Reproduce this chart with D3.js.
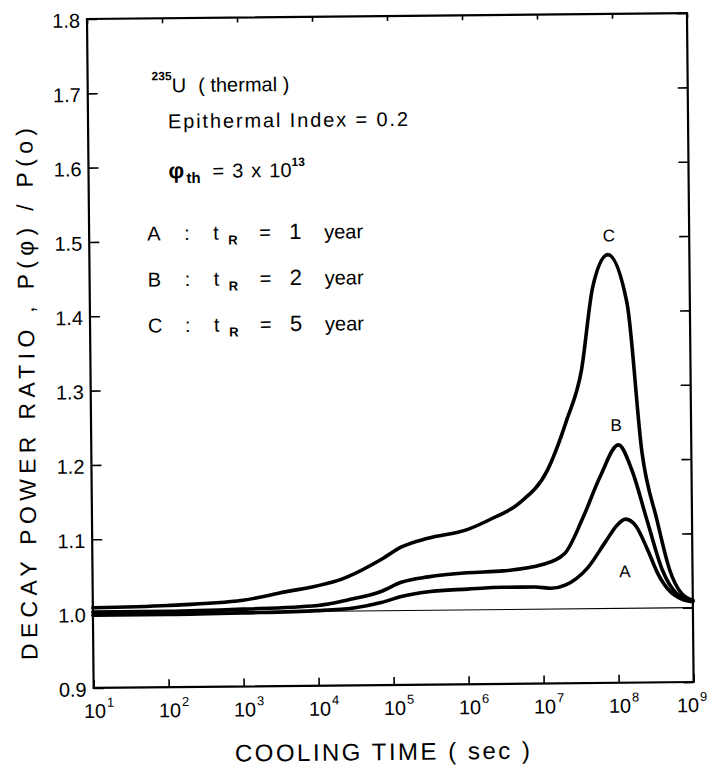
<!DOCTYPE html>
<html>
<head>
<meta charset="utf-8">
<script src="https://cdn.jsdelivr.net/npm/d3@7/dist/d3.min.js"></script>
<style>
  html, body { margin: 0; padding: 0; background: #fff; }
  svg { display: block; }
  text { font-family: "Liberation Sans", "DejaVu Sans", sans-serif; fill: #000; }
</style>
</head>
<body>
<svg id="chart" width="708" height="767"></svg>
<script>
// ---------------- data ----------------
const xTickValues = [1e1, 1e2, 1e3, 1e4, 1e5, 1e6, 1e7, 1e8, 1e9];
const xTickExponents = ["1", "2", "3", "4", "5", "6", "7", "8", "9"];
const yTickValues = [0.9, 1.0, 1.1, 1.2, 1.3, 1.4, 1.5, 1.6, 1.7, 1.8];

// curve A : t_R = 1 year  [cooling time (s), ratio]
const seriesA = [
  [1e1, 0.998], [1e2, 0.998], [1e3, 0.999], [1e4, 1.001], [3e4, 1.004],
  [7e4, 1.011], [1.3e5, 1.019], [3e5, 1.025], [1e6, 1.028], [3e6, 1.030],
  [8e6, 1.030], [1.3e7, 1.028], [2e7, 1.032], [4e7, 1.055], [7e7, 1.090],
  [1e8, 1.112], [1.3e8, 1.120], [1.8e8, 1.110], [2.5e8, 1.080], [3.5e8, 1.045],
  [5e8, 1.022], [7e8, 1.012], [1e9, 1.008]
];
// curve B : t_R = 2 year
const seriesB = [
  [1e1, 1.002], [1e2, 1.002], [1e3, 1.004], [1e4, 1.008], [2.5e4, 1.015],
  [7e4, 1.026], [1.3e5, 1.038], [3e5, 1.045], [1e6, 1.050], [3e6, 1.052],
  [1e7, 1.060], [2e7, 1.075], [3.5e7, 1.122], [6e7, 1.177], [1.07e8, 1.220],
  [1.6e8, 1.186], [2.5e8, 1.119], [4e8, 1.050], [6e8, 1.020], [1e9, 1.009]
];
// curve C : t_R = 5 year
const seriesC = [
  [1e1, 1.008], [1e2, 1.010], [1e3, 1.016], [3e3, 1.025], [2.5e4, 1.046],
  [6.8e4, 1.068], [1.35e5, 1.086], [3e5, 1.097], [1e6, 1.108], [2e6, 1.121],
  [5e6, 1.143], [1.2e7, 1.187], [2.2e7, 1.254], [3.5e7, 1.320], [5.1e7, 1.433],
  [8.2e7, 1.476], [1.45e8, 1.411], [2.2e8, 1.209], [3.4e8, 1.119], [5e8, 1.050],
  [7e8, 1.020], [1e9, 1.010]
];
const curveLabels = ["A", "B", "C"];
const curveLabelPos = [[1.25e8, 1.050], [1.0e8, 1.247], [8.5e7, 1.502]];
const legendValues = ["1", "2", "5"];

// ---------------- layout ----------------
const plotW = 600, plotH = 669;
const svg = d3.select("#chart");
const g = svg.append("g").attr("transform", "translate(87,19) rotate(-0.57)");

const x = d3.scaleLog().domain([1e1, 1e9]).range([0, plotW]);
const y = d3.scaleLinear().domain([0.9, 1.8]).range([plotH, 0]);

// reference line at 1.0
g.append("line")
  .attr("x1", 0).attr("x2", plotW)
  .attr("y1", y(1.0)).attr("y2", y(1.0))
  .attr("stroke", "#000").attr("stroke-width", 1.1);

// axes (ticks on all four sides, inward)
const styleAxis = sel => {
  sel.select(".domain").remove();
  sel.selectAll(".tick line").attr("stroke", "#000").attr("stroke-width", 1.6);
};
g.append("g").attr("transform", `translate(0,${plotH})`)
  .call(d3.axisBottom(x).tickValues(xTickValues).tickSize(-8).tickFormat(""))
  .call(styleAxis);
g.append("g")
  .call(d3.axisTop(x).tickValues(xTickValues).tickSize(-5).tickFormat(""))
  .call(styleAxis);
const yAxisG = g.append("g")
  .call(d3.axisLeft(y).tickValues(yTickValues).tickSize(-10).tickPadding(7).tickFormat(d3.format(".1f")))
  .call(styleAxis);
yAxisG.selectAll(".tick text")
  .attr("font-size", 20).attr("font-family", "Liberation Sans, sans-serif").attr("fill", "#000").attr("dy", "0.4em");
g.append("g").attr("transform", `translate(${plotW},0)`)
  .call(d3.axisRight(y).tickValues(yTickValues).tickSize(-10).tickFormat(""))
  .call(styleAxis);

// frame
g.append("rect").attr("x", 0).attr("y", 0).attr("width", plotW).attr("height", plotH)
  .attr("fill", "none").attr("stroke", "#000").attr("stroke-width", 2.2);

// x tick labels 10^n
const xl = g.append("g");
xTickValues.forEach((v, i) => {
  const shift = (i === xTickValues.length - 1) ? -17 : -10;
  const t = xl.append("text").attr("x", x(v) + shift).attr("y", plotH + 30).attr("font-size", 20);
  t.append("tspan").text("10");
  t.append("tspan").attr("dy", -11).attr("dx", 1).attr("font-size", 13).text(xTickExponents[i]);
});

// curves
const line = d3.line().x(d => x(d[0])).y(d => y(d[1])).curve(d3.curveMonotoneX);
[seriesA, seriesB, seriesC].forEach(s => {
  g.append("path").datum(s).attr("d", line)
    .attr("fill", "none").attr("stroke", "#000").attr("stroke-width", 3.6)
    .attr("stroke-linejoin", "round").attr("stroke-linecap", "round");
});

// curve labels
curveLabels.forEach((lab, i) => {
  g.append("text").attr("x", x(curveLabelPos[i][0])).attr("y", y(curveLabelPos[i][1]))
    .attr("text-anchor", "middle").attr("dy", "0.36em").attr("font-size", 17).text(lab);
});

// annotation block
const ann = g.append("g");
const t1 = ann.append("text").attr("x", 64).attr("y", 74).attr("font-size", 20);
t1.append("tspan").attr("font-size", 12).attr("dy", -12).attr("font-weight", "bold").text("235");
t1.append("tspan").attr("dy", 12).text("U");
t1.append("tspan").attr("dx", 12).text("( thermal )");
ann.append("text").attr("x", 80).attr("y", 110).attr("font-size", 20)
  .attr("textLength", 240).attr("lengthAdjust", "spacing").text("Epithermal  Index = 0.2");
const t3 = ann.append("text").attr("x", 80).attr("y", 160).attr("font-size", 22);
t3.append("tspan").attr("font-weight", "bold").text("φ");
t3.append("tspan").attr("font-size", 15).attr("dy", 5).attr("dx", 2).attr("font-weight", "bold").text("th");
t3.append("tspan").attr("font-size", 20).attr("dy", -5).attr("dx", 12).text("=");
t3.append("tspan").attr("font-size", 20).attr("dx", 8).text("3");
t3.append("tspan").attr("font-size", 20).attr("dx", 8).text("x");
t3.append("tspan").attr("font-size", 20).attr("dx", 8).text("10");
t3.append("tspan").attr("font-size", 12).attr("dy", -11).attr("font-weight", "bold").text("13");

// legend
curveLabels.forEach((lab, i) => {
  const yy = 222 + i * 46;
  const lg = ann.append("g").attr("font-size", 20);
  lg.append("text").attr("x", 58).attr("y", yy).attr("font-size", 20).text(lab);
  lg.append("text").attr("x", 95).attr("y", yy).attr("font-size", 20).text(":");
  lg.append("text").attr("x", 124).attr("y", yy).attr("font-size", 20).text("t");
  lg.append("text").attr("x", 139).attr("y", yy + 5).attr("font-size", 13).attr("font-weight", "bold").text("R");
  lg.append("text").attr("x", 170).attr("y", yy).attr("font-size", 20).text("=");
  lg.append("text").attr("x", 200).attr("y", yy).attr("font-size", 22).text(legendValues[i]);
  lg.append("text").attr("x", 235).attr("y", yy).attr("font-size", 20).text("year");
});

// axis titles
g.append("text")
  .attr("transform", `translate(-64,${plotH / 2 + 40}) rotate(-90)`)
  .attr("text-anchor", "middle").attr("dy", "0.35em").attr("font-size", 23)
  .attr("textLength", 532).attr("lengthAdjust", "spacing")
  .text("DECAY  POWER  RATIO ,  P(φ) / P(o)");
g.append("text")
  .attr("x", 288).attr("y", plotH + 75).attr("text-anchor", "middle").attr("font-size", 24)
  .attr("textLength", 295).attr("lengthAdjust", "spacing")
  .text("COOLING  TIME  ( sec )");
</script>
</body>
</html>
